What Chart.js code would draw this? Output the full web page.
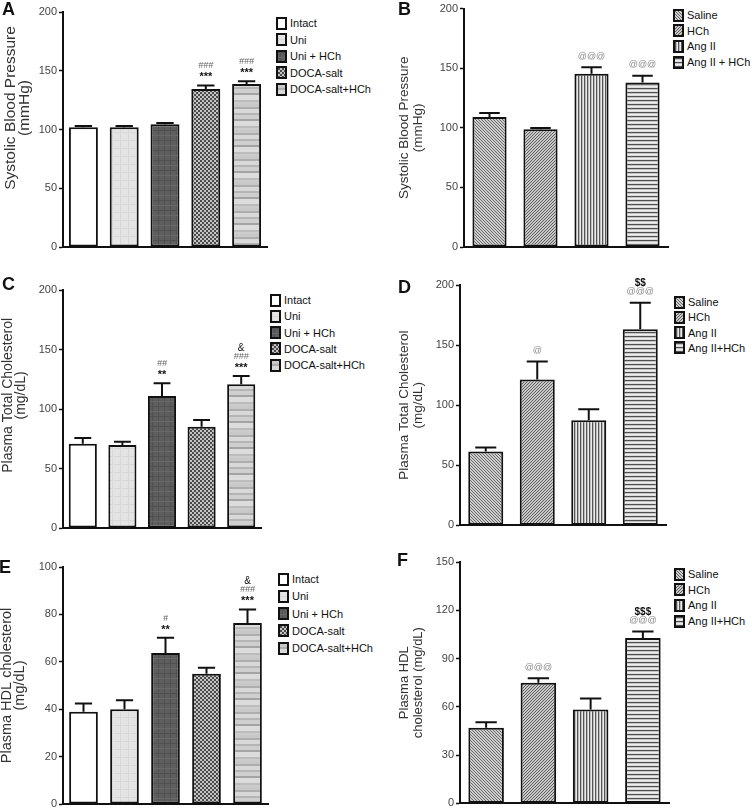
<!DOCTYPE html>
<html>
<head>
<meta charset="utf-8">
<script src="https://cdn.jsdelivr.net/npm/chart.js"></script>
<style>
  body { margin: 0; background: #fff; font-family: "Liberation Sans", Arial, sans-serif; }
  #page { position: relative; width: 752px; height: 809px; overflow: hidden; background: #fff; }
  canvas { position: absolute; }
  .letter { position: absolute; font-weight: bold; font-size: 18px; line-height: 18px; color: #111; }
  .row { position: absolute; height: 14px; display: flex; align-items: center; font-size: 11px; color: #111; white-space: nowrap; }
  .sw { width: 11px; height: 13px; box-sizing: border-box; border: 2px solid #111; margin-right: 3px; background-color: #fff; }
</style>
</head>
<body>
<div id="page"></div>

<script>
    // groups
    const docaGroups = ['Intact', 'Uni', 'Uni + HCh', 'DOCA-salt', 'DOCA-salt+HCh'];
    const angGroupsB = ['Saline', 'HCh', 'Ang II', 'Ang II + HCh'];
    const angGroups = ['Saline', 'HCh', 'Ang II', 'Ang II+HCh'];

    // A - systolic blood pressure, DOCA-salt model
    const sbpDoca = [102, 102, 104.5, 134.5, 138.7];
    const sbpDocaSem = [1, 1, 1, 3, 2.3];
    const sbpDocaSig = [[], [], [], ['***', '###'], ['***', '###']];
    const sbpTicks = [0, 50, 100, 150, 200];

    // B - systolic blood pressure, Ang II model
    const sbpAng = [109, 98.8, 145.4, 138];
    const sbpAngSem = [3.5, 1.1, 5.5, 5.7];
    const sbpAngSig = [[], [], ['@@@'], ['@@@']];

    // C - plasma total cholesterol, DOCA-salt
    const tcDoca = [70.8, 69.7, 111, 85, 120.8];
    const tcDocaSem = [4.8, 2.8, 10.6, 5.7, 7];
    const tcDocaSig = [[], [], ['**', '##'], [], ['***', '###', '&']];
    const tcTicks = [0, 50, 100, 150, 200];

    // D - plasma total cholesterol, Ang II
    const tcAng = [61.5, 121.4, 87.4, 163.2];
    const tcAngSem = [3.3, 14.9, 9.3, 22];
    const tcAngSig = [[], ['@'], [], ['@@@', '$$']];

    // E - plasma HDL, DOCA-salt
    const hdlDoca = [38.9, 40, 63.7, 55, 76.4];
    const hdlDocaSem = [3.5, 3.8, 6.5, 2.5, 5.7];
    const hdlDocaSig = [[], [], ['**', '#'], [], ['***', '###', '&']];
    const hdlDocaTicks = [0, 20, 40, 60, 80, 100];

    // F - plasma HDL, Ang II
    const hdlAng = [47, 74.9, 58.3, 102.8];
    const hdlAngSem = [3.5, 2.9, 6.9, 4];
    const hdlAngSig = [[], ['@@@'], [], ['@@@', '$$$']];
    const hdlAngTicks = [0, 30, 60, 90, 120, 150];

    const FONT = '"Liberation Sans", Arial, sans-serif';
    const page = document.getElementById('page');

    // little pattern tiles
    function tile(w, h, draw) {
        let c = document.createElement('canvas');
        c.width = w; c.height = h;
        draw(c.getContext('2d'));
        return c;
    }
    function rows(colors) {
        return tile(2, colors.length, g => colors.forEach((c, i) => { g.fillStyle = c; g.fillRect(0, i, 2, 1); }));
    }
    function cols(colors) {
        return tile(colors.length, 2, g => colors.forEach((c, i) => { g.fillStyle = c; g.fillRect(i, 0, 1, 2); }));
    }
    const tiles = {
        intact: tile(2, 2, g => { g.fillStyle = '#fff'; g.fillRect(0, 0, 2, 2); }),
        uni: tile(8, 8, g => {
            g.fillStyle = '#e4e4e4'; g.fillRect(0, 0, 8, 8);
            g.fillStyle = '#d8d8d8'; g.fillRect(0, 0, 1, 8); g.fillRect(0, 4, 8, 1);
        }),
        uniHch: tile(6, 10, g => {
            g.fillStyle = '#5e5e5e'; g.fillRect(0, 0, 6, 10);
            g.fillStyle = '#505050'; g.fillRect(0, 0, 6, 1); g.fillRect(2, 0, 1, 10);
            g.fillStyle = '#686868'; g.fillRect(0, 5, 6, 1);
        }),
        doca: tile(4, 4, g => {
            g.fillStyle = '#c4c4c4'; g.fillRect(0, 0, 4, 4);
            g.fillStyle = '#4a4a4a'; g.fillRect(0, 0, 2, 2); g.fillRect(2, 2, 2, 2);
        }),
        docaHch: rows(['#c8c8c8', '#c8c8c8', '#c8c8c8', '#adadad', '#adadad', '#d8d8d8', '#d8d8d8', '#d8d8d8',
            '#d8d8d8', '#b5b5b5', '#b5b5b5', '#cfcfcf', '#cfcfcf', '#cfcfcf', '#cfcfcf', '#a3a3a3', '#a3a3a3',
            '#dcdcdc', '#dcdcdc', '#dcdcdc', '#dcdcdc', '#dcdcdc', '#bcbcbc', '#bcbcbc', '#cccccc', '#cccccc']),
        saline: tile(3, 3, g => {
            g.fillStyle = '#cdcdcd'; g.fillRect(0, 0, 3, 3);
            g.fillStyle = '#6a6a6a'; for (let i = 0; i < 3; i++) g.fillRect(i, i, 1, 1);
        }),
        hch: tile(3, 3, g => {
            g.fillStyle = '#c8c8c8'; g.fillRect(0, 0, 3, 3);
            g.fillStyle = '#5e5e5e'; for (let i = 0; i < 3; i++) g.fillRect(i, 2 - i, 1, 1);
        }),
        angII: cols(['#555555', '#bcbcbc', '#eaeaea']),
        angHch: rows(['#505050', '#c2c2c2', '#eeeeee', '#dcdcdc']),
    };
    function pat(name) {
        return document.createElement('canvas').getContext('2d').createPattern(tiles[name], 'repeat');
    }
    const docaFills = ['intact', 'uni', 'uniHch', 'doca', 'docaHch'];
    const angFills = ['saline', 'hch', 'angII', 'angHch'];

    const markStyle = {
        '*': ['bold 11px', '#111', 3],
        '#': ['italic 9px', '#666', 0],
        '@': ['9px', '#8a8a8a', 0],
        '$': ['bold 10px', '#111', 0],
        '&': ['10px', '#111', 0],
    };

    function errorBars(sem, sig) {
        return {
            id: 'errorBars',
            afterDatasetsDraw(chart) {
                let ctx = chart.ctx;
                let y = chart.scales.y;
                let vals = chart.data.datasets[0].data;
                chart.getDatasetMeta(0).data.forEach((bar, i) => {
                    let top = y.getPixelForValue(vals[i] + sem[i]);
                    let half = bar.width * 0.3;
                    ctx.save();
                    ctx.strokeStyle = '#111';
                    ctx.lineWidth = 2;
                    ctx.beginPath();
                    ctx.moveTo(bar.x, bar.y);
                    ctx.lineTo(bar.x, top);
                    ctx.moveTo(bar.x - half, top);
                    ctx.lineTo(bar.x + half, top);
                    ctx.stroke();
                    ctx.textAlign = 'center';
                    ctx.textBaseline = 'middle';
                    sig[i].forEach((m, k) => {
                        let st = markStyle[m[0]];
                        ctx.font = st[0] + ' ' + FONT;
                        ctx.fillStyle = st[1];
                        ctx.fillText(m, bar.x, top - 11 - 8.5 * k + st[2]);
                    });
                    ctx.restore();
                });
            }
        };
    }

    function panel(p) {
        let c = document.createElement('canvas');
        c.width = p.box.w; c.height = p.box.h;
        c.style.left = p.box.x + 'px'; c.style.top = p.box.y + 'px';
        page.appendChild(c);
        let leftW = p.plot.l - p.box.x;
        let bottomH = p.box.y + p.box.h - p.plot.b;
        let ticks = p.ticks;
        new Chart(c, {
            type: 'bar',
            data: {
                labels: p.labels,
                datasets: [{
                    data: p.values,
                    backgroundColor: p.fills.map(pat),
                    borderColor: '#111',
                    borderWidth: 2,
                    borderSkipped: false,
                    barPercentage: p.barPct,
                    categoryPercentage: 1
                }]
            },
            options: {
                responsive: false,
                animation: false,
                layout: { padding: { top: p.plot.t - p.box.y, right: p.box.x + p.box.w - p.plot.r, left: 0, bottom: 0 } },
                plugins: { legend: { display: false }, tooltip: { enabled: false } },
                scales: {
                    x: {
                        ticks: { display: false },
                        grid: { display: false, drawTicks: false },
                        border: { color: '#111', width: 2 },
                        afterFit: s => { s.height = bottomH; }
                    },
                    y: {
                        min: ticks[0],
                        max: ticks[ticks.length - 1],
                        ticks: { stepSize: ticks[1] - ticks[0], color: '#444', padding: 2, font: { family: FONT, size: 11 } },
                        grid: { drawOnChartArea: false, drawTicks: true, tickLength: 4, tickColor: '#111', tickWidth: 1.5 },
                        border: { color: '#111', width: 2 },
                        title: {
                            display: true,
                            text: p.title.map(t => ' '.repeat(p.titleShift) + t),
                            color: '#333',
                            font: { family: FONT, size: p.titleSize, lineHeight: p.titleLh },
                            padding: { top: p.titlePad, bottom: 0 }
                        },
                        afterFit: s => { s.width = leftW; }
                    }
                }
            },
            plugins: [errorBars(p.sem, p.sig)]
        });

        let L = document.createElement('div');
        L.className = 'letter';
        L.textContent = p.letter[0];
        L.style.left = p.letter[1] + 'px';
        L.style.top = p.letter[2] + 'px';
        page.appendChild(L);

        p.labels.forEach((name, i) => {
            let r = document.createElement('div');
            r.className = 'row';
            r.style.left = p.legend.x + 'px';
            r.style.top = (p.legend.y + p.legend.step * i - 7) + 'px';
            let sw = document.createElement('div');
            sw.className = 'sw';
            sw.style.backgroundImage = 'url(' + tiles[p.fills[i]].toDataURL() + ')';
            r.appendChild(sw);
            r.appendChild(document.createTextNode(name));
            page.appendChild(r);
        });
    }

    panel({
        letter: ['A', 2, 0], labels: docaGroups, values: sbpDoca, sem: sbpDocaSem, sig: sbpDocaSig, ticks: sbpTicks,
        fills: docaFills, title: ['Systolic Blood Pressure', '(mmHg)'], titleSize: 15.5, titleLh: 0.87, titlePad: 4, titleShift: 10,
        box: { x: 0, y: 0, w: 272, h: 262 }, plot: { l: 63, r: 267, t: 12, b: 247 }, barPct: 0.71,
        legend: { x: 276, y: 23, step: 16.5 }
    });
    panel({
        letter: ['B', 398, 0], labels: angGroupsB, values: sbpAng, sem: sbpAngSem, sig: sbpAngSig, ticks: sbpTicks,
        fills: angFills, title: ['Systolic Blood Pressure', '(mmHg)'], titleSize: 13.5, titleLh: 1.1, titlePad: 4.5, titleShift: 0,
        box: { x: 392, y: 0, w: 280, h: 262 }, plot: { l: 464, r: 668, t: 5, b: 247 }, barPct: 0.67,
        legend: { x: 673, y: 15, step: 15.7 }
    });
    panel({
        letter: ['C', 2, 275], labels: docaGroups, values: tcDoca, sem: tcDocaSem, sig: tcDocaSig, ticks: tcTicks,
        fills: docaFills, title: ['Plasma Total Cholesterol', '(mg/dL)'], titleSize: 14, titleLh: 0.93, titlePad: 1.5, titleShift: 7,
        box: { x: 0, y: 276, w: 265, h: 262 }, plot: { l: 63, r: 261, t: 290, b: 528 }, barPct: 0.71,
        legend: { x: 270, y: 300, step: 16.3 }
    });
    panel({
        letter: ['D', 398, 278], labels: angGroups, values: tcAng, sem: tcAngSem, sig: tcAngSig, ticks: tcTicks,
        fills: angFills, title: ['Plasma Total Cholesterol', '(mg/dL)'], titleSize: 13.5, titleLh: 1.1, titlePad: 8.5, titleShift: 0,
        box: { x: 388, y: 272, w: 282, h: 262 }, plot: { l: 460, r: 666, t: 285, b: 528 }, barPct: 0.68,
        legend: { x: 674, y: 302, step: 15.3 }
    });
    panel({
        letter: ['E', -1, 558], labels: docaGroups, values: hdlDoca, sem: hdlDocaSem, sig: hdlDocaSig, ticks: hdlDocaTicks,
        fills: docaFills, title: ['Plasma HDL cholesterol', '(mg/dL)'], titleSize: 14.5, titleLh: 0.9, titlePad: 0.5, titleShift: 0,
        box: { x: 0, y: 553, w: 273, h: 262 }, plot: { l: 63, r: 268, t: 567, b: 804 }, barPct: 0.7,
        legend: { x: 278, y: 579, step: 17.3 }
    });
    panel({
        letter: ['F', 397, 551], labels: angGroups, values: hdlAng, sem: hdlAngSem, sig: hdlAngSig, ticks: hdlAngTicks,
        fills: angFills, title: ['Plasma HDL', 'cholesterol (mg/dL)'], titleSize: 13, titleLh: 1.08, titlePad: 9, titleShift: 0,
        box: { x: 388, y: 550, w: 285, h: 262 }, plot: { l: 460, r: 669, t: 562, b: 804 }, barPct: 0.68,
        legend: { x: 674, y: 574, step: 15.7 }
    });
</script>
</body>
</html>
